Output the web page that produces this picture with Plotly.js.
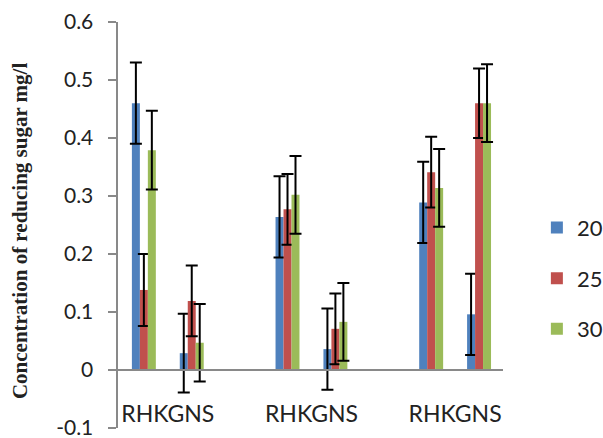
<!DOCTYPE html>
<html>
<head>
<meta charset="utf-8">
<script src="https://cdn.plot.ly/plotly-3.0.1.min.js"></script>
<style>html,body{margin:0;padding:0;background:#fff;}#chart{width:603px;height:438px;}</style>
</head>
<body>
<div id="chart"></div>
<script>
// positions of the six bar clusters along the category axis (gaps at 2 and 5)
var xPos = [0, 1, 3, 4, 6, 7];
var tickPos = [0.5, 3.5, 6.5];
var tickLabels = ["RHKGNS", "RHKGNS", "RHKGNS"];
var seriesNames = ["20", "25", "30"];
var s20 = [0.460, 0.029, 0.264, 0.036, 0.289, 0.096];
var e20 = [0.070, 0.068, 0.070, 0.070, 0.070, 0.070];
var s25 = [0.138, 0.119, 0.277, 0.071, 0.341, 0.460];
var e25 = [0.062, 0.061, 0.061, 0.061, 0.061, 0.060];
var s30 = [0.379, 0.047, 0.302, 0.083, 0.314, 0.460];
var e30 = [0.068, 0.067, 0.067, 0.067, 0.067, 0.067];
var yTickVals = [-0.1, 0, 0.1, 0.2, 0.3, 0.4, 0.5, 0.6];
var yTickText = ["-0.1", "0", "0.1", "0.2", "0.3", "0.4", "0.5", "0.6"];

var colors = ["#4F81BD", "#C0504D", "#9BBB59"];
var vals = [s20, s25, s30];
var errs = [e20, e25, e30];

var traces = seriesNames.map(function (n, i) {
  return {
    type: "bar",
    name: n,
    x: xPos,
    y: vals[i],
    legendgroup: "g" + i,
    marker: {color: colors[i]},
    error_y: {type: "data", array: errs[i], visible: true, color: "#000", thickness: 2, width: 6}
  };
});

var axisGray = "#898989";
var layout = {
  width: 603, height: 438,
  margin: {l: 118, r: 100, t: 22, b: 10, autoexpand: false},
  paper_bgcolor: "#fff", plot_bgcolor: "#fff",
  barmode: "group", bargap: 0.5, bargroupgap: 0,
  font: {family: "Lato, 'Open Sans', sans-serif", color: "#222"},
  xaxis: {
    range: [-0.54, 7.5], tickvals: tickPos, ticktext: tickLabels,
    anchor: "free", position: 0.1429,
    showline: true, linecolor: axisGray, linewidth: 2.5,
    ticks: "outside", ticklen: 23, tickcolor: "rgba(0,0,0,0)", showgrid: false, zeroline: false,
    tickfont: {size: 23, color: "#222"}, ticklabeloverflow: "allow"
  },
  yaxis: {
    range: [-0.1, 0.6], tickvals: yTickVals, ticktext: yTickText,
    showline: true, linecolor: axisGray, linewidth: 2.5,
    ticks: "outside", ticklen: 8, tickwidth: 2, tickcolor: axisGray,
    showgrid: false, zeroline: false, ticklabeloverflow: "allow",
    tickfont: {size: 21, color: "#222"}, ticklabelstandoff: 10
  },
  showlegend: true,
  legend: {x: 1.088, y: 0.545, xanchor: "left", yanchor: "top",
    font: {size: 22, color: "#222"}, tracegroupgap: 19, itemwidth: 30, bgcolor: "rgba(0,0,0,0)"},
  annotations: [{
    xref: "paper", yref: "paper", x: -0.2545, y: 0.485, xanchor: "center", yanchor: "middle",
    text: "<b>Concentration of reducing sugar mg/l</b>", showarrow: false, textangle: -90,
    font: {family: "'Liberation Serif', 'Times New Roman', serif", size: 21, color: "#222"}
  }]
};

Plotly.newPlot("chart", traces, layout, {displayModeBar: false, staticPlot: true});
</script>
</body>
</html>
